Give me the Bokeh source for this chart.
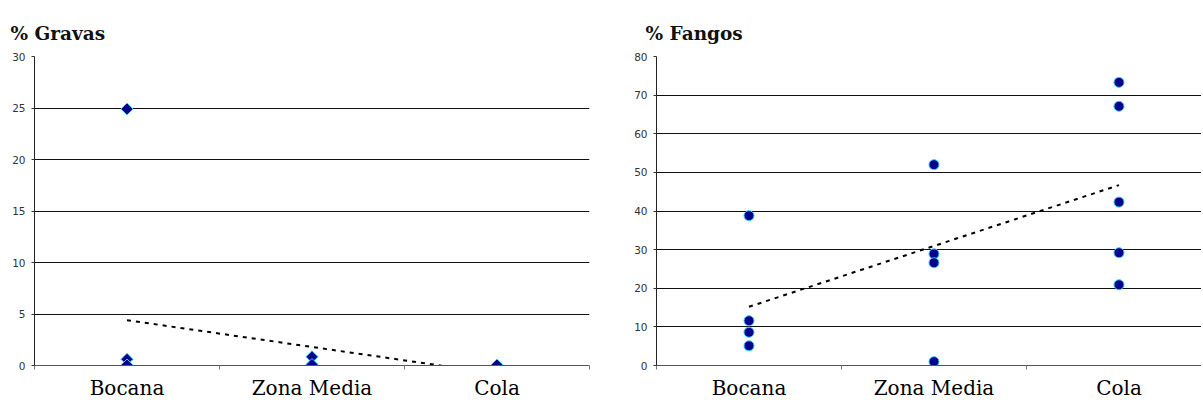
import math
from bokeh.plotting import figure
from bokeh.layouts import row
from bokeh.models import FixedTicker, Grid
from bokeh.embed import file_html
from bokeh.resources import INLINE

categories = ["Bocana", "Zona Media", "Cola"]

gravas_bocana = [24.9, 0.6, 0.05]
gravas_zona = [0.85, 0.1]
gravas_cola = [0.05]
gravas_trend = [4.4, -0.8]          # trend value at Bocana and at Cola
gravas_ticks = [0, 5, 10, 15, 20, 25, 30]

fangos_bocana = [38.8, 11.6, 8.6, 5.1]
fangos_zona = [52.0, 28.9, 26.6, 1.0]
fangos_cola = [73.3, 67.1, 42.3, 29.2, 20.9]
fangos_trend = [15.2, 46.7]
fangos_ticks = [0, 10, 20, 30, 40, 50, 60, 70, 80]

NAVY = "#00008B"
HALO = "#33ccff"


def panel(title, groups, trend, ticks, marker, msize, mangle, width, mb_left, mb_right,
          x_end, title_offset):
    p = figure(width=width, height=402, output_backend="svg", toolbar_location=None,
               x_range=(0.5, x_end), y_range=(ticks[0], ticks[-1]),
               min_border_left=mb_left, min_border_right=mb_right,
               min_border_top=56, min_border_bottom=30)
    p.outline_line_color = None
    p.background_fill_color = "white"
    p.border_fill_color = "white"

    p.title.text = title
    p.title.text_font = "DejaVu Serif"
    p.title.text_font_style = "bold"
    p.title.text_font_size = "18.5px"
    p.title.text_color = "#111111"
    p.title.align = "left"
    p.title.offset = title_offset
    p.title.standoff = 25

    # x axis
    pos = list(range(1, len(categories) + 1))
    p.xaxis.ticker = FixedTicker(ticks=pos,
                                 minor_ticks=[v - 0.5 for v in pos] + [pos[-1] + 0.5])
    p.xaxis.major_label_overrides = {v: c for v, c in zip(pos, categories)}
    p.xaxis.major_tick_out = 0
    p.xaxis.major_tick_in = 0
    p.xaxis.minor_tick_out = 4
    p.xaxis.minor_tick_in = 0
    p.xaxis.minor_tick_line_color = "#777777"
    p.xaxis.axis_line_color = "#555555"
    p.xaxis.major_label_text_font = "DejaVu Serif"
    p.xaxis.major_label_text_font_size = "20px"
    p.xaxis.major_label_text_color = "#000000"
    p.xaxis.major_label_standoff = 6

    # y axis
    p.yaxis.ticker = FixedTicker(ticks=ticks, minor_ticks=[])
    p.yaxis.major_tick_out = 3
    p.yaxis.major_tick_in = 0
    p.yaxis.major_tick_line_color = "#333333"
    p.yaxis.axis_line_color = "#222222"
    p.yaxis.major_label_text_font = "DejaVu Sans"
    p.yaxis.major_label_text_font_size = "10.5px"
    p.yaxis.major_label_text_color = "#333333"
    p.yaxis.major_label_standoff = 6

    p.xgrid.visible = False
    p.ygrid.ticker = FixedTicker(ticks=ticks[1:-1], minor_ticks=[])
    p.ygrid.grid_line_color = "#111111"
    p.ygrid.grid_line_width = 1
    top = Grid(dimension=1, ticker=FixedTicker(ticks=[ticks[-1]], minor_ticks=[]),
               grid_line_color="#aaaaaa", grid_line_width=2)
    p.add_layout(top)

    # trend line
    p.line([pos[0], pos[-1]], trend, line_color="black", line_width=2, line_dash="4 5")

    for x, vals in zip(pos, groups):
        p.scatter([x] * len(vals), vals, marker=marker, size=msize, angle=mangle,
                  fill_color=NAVY, line_color=HALO, line_width=1)
    return p


left = panel("% Gravas", [gravas_bocana, gravas_zona, gravas_cola], gravas_trend,
             gravas_ticks, "square", 8.5, math.pi / 4, 600, 34, 11, 3.5, -24)
right = panel("% Fangos", [fangos_bocana, fangos_zona, fangos_cola], fangos_trend,
              fangos_ticks, "circle", 10, 0, 601, 56, 0, 3.446, -11)

layout = row(left, right, spacing=0)
open("out.html", "w").write(file_html(layout, INLINE))
